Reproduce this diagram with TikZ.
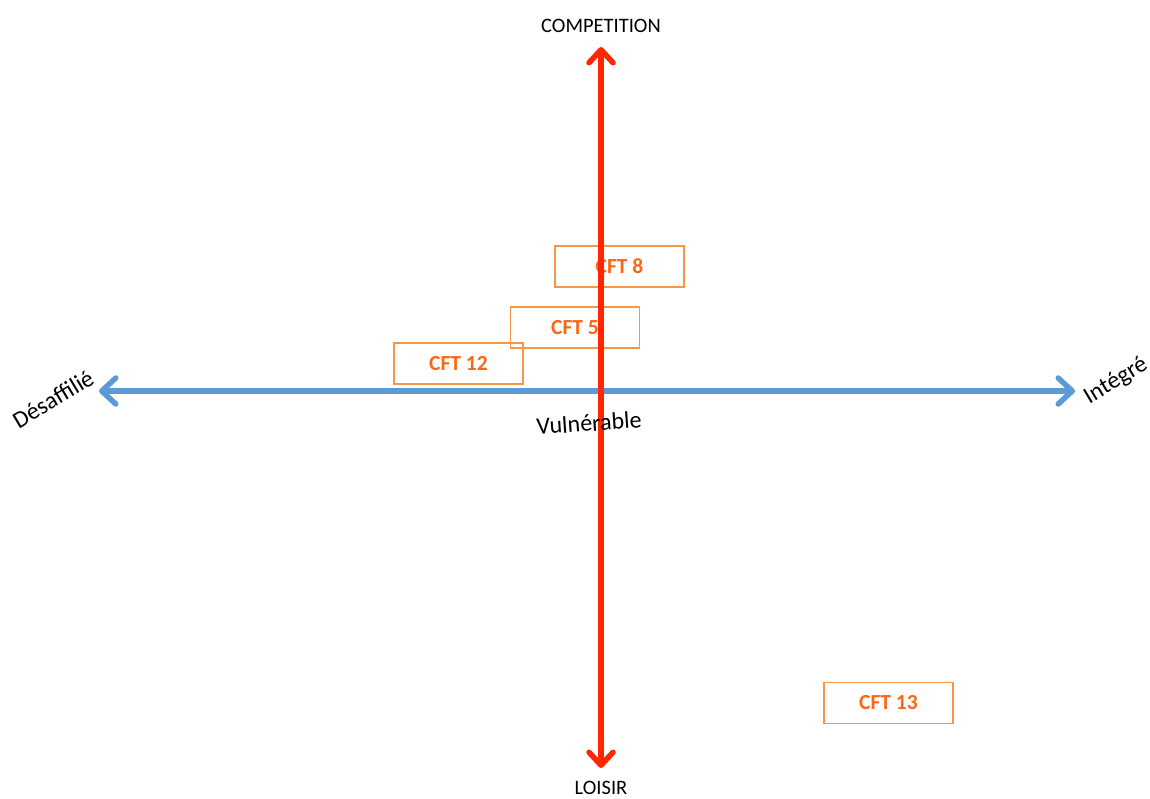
\documentclass[tikz,border=0pt]{standalone}
\usepackage{fontspec}
\setmainfont{Carlito}
\usetikzlibrary{arrows.meta}
\definecolor{axisred}{RGB}{255,38,0}
\definecolor{axisblue}{RGB}{91,155,213}
\definecolor{boxorange}{RGB}{247,150,70}
\definecolor{textorange}{RGB}{255,102,20}
\tikzset{
  cftbox/.style={draw=boxorange, line width=1.2pt, minimum width=129pt, minimum height=41pt, inner sep=0pt,
    font=\fontsize{21.5}{25}\selectfont\bfseries, text=textorange},
  axislabel/.style={font=\fontsize{20.5}{24}\selectfont, text=black, inner sep=0pt},
  sidelabel/.style={font=\fontsize{24}{28}\selectfont, text=black, inner sep=0pt},
  redaxis/.style={draw=axisred, line width=5.5pt, line cap=round,
    {Straight Barb[length=13pt,width=24pt,round]}-{Straight Barb[length=13pt,width=24pt,round]}},
  blueaxis/.style={draw=axisblue, line width=5.5pt, line cap=round,
    {Straight Barb[length=14pt,width=26pt,round]}-{Straight Barb[length=14pt,width=26pt,round]}}
}
\begin{document}
\begin{tikzpicture}[x=1pt,y=-1pt]
\useasboundingbox (0,0) rectangle (1150,798);
% boxes
\node[cftbox] (c8) at (619.5,266.5) {CFT 8};
\node[cftbox] (c5) at (575,327.5) {CFT 5};
\node[cftbox] (c12) at (458.5,363.5) {CFT 12};
\node[cftbox] (c13) at (888.5,703) {CFT 13};
% axes end points
\coordinate (top) at (601,47);
\coordinate (bot) at (601,768);
\coordinate (left) at (99,391);
\coordinate (right) at (1075,391);
\draw[blueaxis] (left) -- (right);
\draw[redaxis] (bot) -- (top);
% labels
\node[axislabel] (comp) at (601,26) {COMPETITION};
\node[axislabel] (loisir) at (601,788) {LOISIR};
\node[sidelabel, rotate=4] (vul) at (589,423) {Vulnérable};
\node[sidelabel, rotate=31] (des) at (53,399) {Désaffilié};
\node[sidelabel, rotate=31] (int) at (1116,381) {Intégré};
\end{tikzpicture}
\end{document}
